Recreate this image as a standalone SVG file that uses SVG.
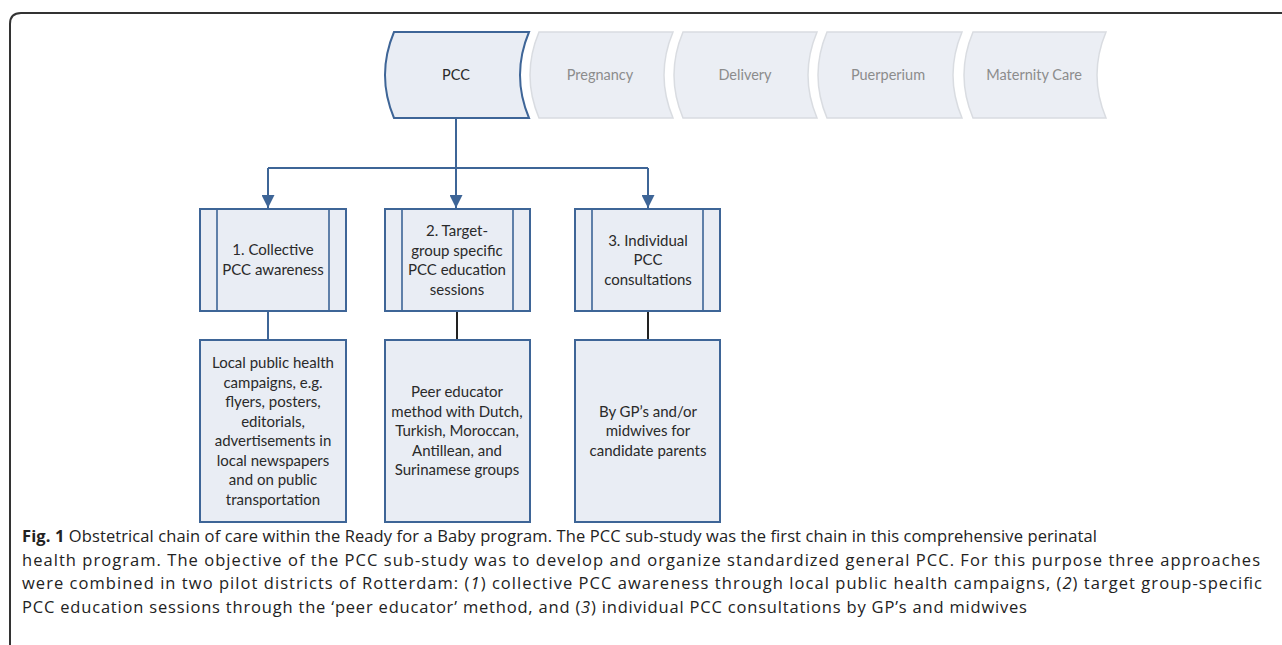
<svg xmlns="http://www.w3.org/2000/svg" width="1282" height="645" viewBox="0 0 1282 645">
<defs>
<style>
.box{fill:#e9edf4;stroke:#3e6597;stroke-width:2}
.inner{stroke:#3e6597;stroke-width:1.6;fill:none}
.off{fill:#ebeef4;stroke:#d9dce1;stroke-width:1.5}
.t{font-family:Lato,"Open Sans",sans-serif;font-size:15px;fill:#2a2a2a;text-anchor:middle}
.tc{font-family:Lato,"Open Sans",sans-serif;font-size:14.5px;fill:#2a2a2a;text-anchor:middle}
.tg{font-family:Lato,"Open Sans",sans-serif;font-size:14.5px;fill:#8c8c8c;text-anchor:middle}
.blue{stroke:#3e6597;stroke-width:2;fill:none}
.black{stroke:#222;stroke-width:2;fill:none}
.cap{font-family:"Open Sans","Noto Sans",sans-serif;font-size:16.5px;fill:#222}
</style>
<marker id="ah" viewBox="0 0 10 10" refX="10" refY="5" markerWidth="6.5" markerHeight="6.5" orient="auto" markerUnits="strokeWidth">
<path d="M0,0 L10,5 L0,10 Z" fill="#3e6597"/>
</marker>
</defs>
<rect width="1282" height="645" fill="#fff"/>
<path d="M1290,13 L21,13 Q10,13 10,24 L10,650" fill="none" stroke="#333" stroke-width="2"/>

<g id="chain-pcc">
<path class="box" d="M394,32 L529,32 Q511,75 529,118 L394,118 Q376,75 394,32 Z"/>
<text class="tc" x="456" y="80">PCC</text>
</g>
<g id="chain-pregnancy">
<path class="off" d="M539,32 L673,32 Q655,75 673,118 L539,118 Q521,75 539,32 Z"/>
<text class="tg" x="600" y="80">Pregnancy</text>
</g>
<g id="chain-delivery">
<path class="off" d="M683,32 L817,32 Q799,75 817,118 L683,118 Q665,75 683,32 Z"/>
<text class="tg" x="745" y="80">Delivery</text>
</g>
<g id="chain-puerperium">
<path class="off" d="M827,32 L962,32 Q944,75 962,118 L827,118 Q809,75 827,32 Z"/>
<text class="tg" x="888" y="80">Puerperium</text>
</g>
<g id="chain-maternity">
<path class="off" d="M973,32 L1106,32 Q1088,75 1106,118 L973,118 Q955,75 973,32 Z"/>
<text class="tg" x="1034" y="80">Maternity Care</text>
</g>

<g id="connectors">
<path class="blue" d="M456,119 L456,168"/>
<path class="blue" d="M268,168 L648,168"/>
<path class="blue" d="M268,168 L268,208" marker-end="url(#ah)"/>
<path class="blue" d="M456,168 L456,208" marker-end="url(#ah)"/>
<path class="blue" d="M648,168 L648,208" marker-end="url(#ah)"/>
<path class="blue" d="M268,312 L268,340"/>
<path class="black" d="M457,312 L457,340"/>
<path class="black" d="M648,312 L648,340"/>
</g>

<g id="approach-1">
<rect class="box" x="200" y="209" width="146" height="102"/>
<path class="inner" d="M217,209 L217,311 M329,209 L329,311"/>
<text class="t" x="273" y="255">1. Collective</text>
<text class="t" x="273" y="275">PCC awareness</text>
</g>
<g id="approach-2">
<rect class="box" x="385" y="209" width="145" height="102"/>
<path class="inner" d="M402,209 L402,311 M513,209 L513,311"/>
<text class="t" x="457" y="236">2. Target-</text>
<text class="t" x="457" y="256">group specific</text>
<text class="t" x="457" y="275">PCC education</text>
<text class="t" x="457" y="295">sessions</text>
</g>
<g id="approach-3">
<rect class="box" x="575" y="209" width="145" height="102"/>
<path class="inner" d="M592,209 L592,311 M703,209 L703,311"/>
<text class="t" x="648" y="246">3. Individual</text>
<text class="t" x="648" y="265">PCC</text>
<text class="t" x="648" y="285">consultations</text>
</g>

<g id="detail-1">
<rect class="box" x="200" y="340" width="146" height="182"/>
<text class="t" x="273" y="368">Local public health</text>
<text class="t" x="273" y="387.5">campaigns, e.g.</text>
<text class="t" x="273" y="407">flyers, posters,</text>
<text class="t" x="273" y="426.5">editorials,</text>
<text class="t" x="273" y="446">advertisements in</text>
<text class="t" x="273" y="465.5">local newspapers</text>
<text class="t" x="273" y="485">and on public</text>
<text class="t" x="273" y="504.5">transportation</text>
</g>
<g id="detail-2">
<rect class="box" x="385" y="340" width="145" height="182"/>
<text class="t" x="457" y="397">Peer educator</text>
<text class="t" x="457" y="416.5">method with Dutch,</text>
<text class="t" x="457" y="436">Turkish, Moroccan,</text>
<text class="t" x="457" y="455.5">Antillean, and</text>
<text class="t" x="457" y="475">Surinamese groups</text>
</g>
<g id="detail-3">
<rect class="box" x="575" y="340" width="145" height="182"/>
<text class="t" x="648" y="416.5">By GP’s and/or</text>
<text class="t" x="648" y="436">midwives for</text>
<text class="t" x="648" y="455.5">candidate parents</text>
</g>

<g id="caption">
<text class="cap" x="22" y="542" textLength="1075" lengthAdjust="spacing"><tspan font-weight="bold">Fig. 1</tspan> Obstetrical chain of care within the Ready for a Baby program. The PCC sub-study was the first chain in this comprehensive perinatal</text>
<text class="cap" x="22" y="565.5" textLength="1238" lengthAdjust="spacing">health program. The objective of the PCC sub-study was to develop and organize standardized general PCC. For this purpose three approaches</text>
<text class="cap" x="22" y="589" textLength="1240" lengthAdjust="spacing">were combined in two pilot districts of Rotterdam: (<tspan font-style="italic">1</tspan>) collective PCC awareness through local public health campaigns, (<tspan font-style="italic">2</tspan>) target group-specific</text>
<text class="cap" x="22" y="612.5" textLength="1005" lengthAdjust="spacing">PCC education sessions through the ‘peer educator’ method, and (<tspan font-style="italic">3</tspan>) individual PCC consultations by GP’s and midwives</text>
</g>
</svg>
